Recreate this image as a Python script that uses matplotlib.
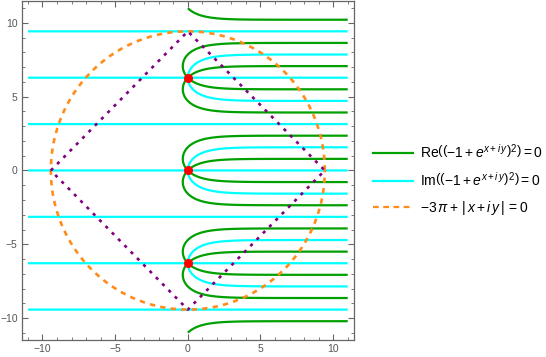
import numpy as np
import matplotlib
matplotlib.use("Agg")
import matplotlib.pyplot as plt
from matplotlib.lines import Line2D
from matplotlib.ticker import MultipleLocator

plt.rcParams['font.family'] = ['Liberation Sans', 'DejaVu Sans']
plt.rcParams['mathtext.fontset'] = 'custom'
plt.rcParams['mathtext.rm'] = 'Liberation Sans'
plt.rcParams['mathtext.it'] = 'Liberation Sans:italic'
plt.rcParams['mathtext.sf'] = 'Liberation Sans'

# ---- data ----
x_range = [-11, 11]
y_range = [-10.99, 10.99]
circle_radius = 3 * np.pi
diamond_x = [-3 * np.pi, 0, 3 * np.pi, 0, -3 * np.pi]
diamond_y = [0, 3 * np.pi, 0, -3 * np.pi, 0]
zero_x = [0, 0, 0]
zero_y = [-2 * np.pi, 0, 2 * np.pi]
x_ticks = [-10, -5, 0, 5, 10]
y_ticks = [-10, -5, 0, 5, 10]
labels = [r"$\mathrm{Re}\left(\left(-1+e^{x+i\,y}\right)^{2}\right)=0$",
          r"$\mathrm{Im}\left(\left(-1+e^{x+i\,y}\right)^{2}\right)=0$",
          r"$-3\,\pi+\,|\,x+i\,y\,|\,=0$"]

GREEN = '#00a000'
CYAN = '#00ffff'
ORANGE = '#ff8c1a'
PURPLE = '#800080'

fig = plt.figure(figsize=(5.46, 3.57), dpi=100)
ax = fig.add_axes([0.040, 0.049, 0.608, 0.947])

n = 1400
xs = np.linspace(x_range[0], x_range[1], n)
ys = np.linspace(y_range[0], y_range[1], n)
X, Y = np.meshgrid(xs, ys)
W = (np.exp(X + 1j * Y) - 1) ** 2

ax.contour(X, Y, W.imag, levels=[0], colors=[CYAN], linewidths=1.6, zorder=2)
ax.contour(X, Y, W.real, levels=[0], colors=[GREEN], linewidths=1.6, zorder=3)

t = np.linspace(0, 2 * np.pi, 400)
ax.plot(circle_radius * np.cos(t), circle_radius * np.sin(t), color=ORANGE,
        lw=1.9, dashes=(2.0, 2.0), zorder=4)
ax.plot(diamond_x, diamond_y, color=PURPLE, lw=1.9, dashes=(1.2, 2.2), zorder=5)
ax.plot(zero_x, zero_y, 'o', color='red', ms=5.5, zorder=6)

ax.set_xlim(-11.42, 11.42)
ax.set_ylim(-11.45, 11.45)
ax.set_xticks(x_ticks)
ax.set_yticks(y_ticks)
ax.xaxis.set_minor_locator(MultipleLocator(1))
ax.yaxis.set_minor_locator(MultipleLocator(1))
ax.tick_params(which='both', direction='in', color='#666666', top=True, right=True,
               labelcolor='#555555', labelsize=7.5, pad=3)
ax.tick_params(which='major', length=4, width=0.8)
ax.tick_params(which='minor', length=2.5, width=0.6)
ax.tick_params(top=True, right=True, labeltop=False, labelright=False)
for s in ax.spines.values():
    s.set_color('#666666')
    s.set_linewidth(0.9)

handles = [Line2D([], [], color=GREEN, lw=1.6),
           Line2D([], [], color=CYAN, lw=1.6),
           Line2D([], [], color=ORANGE, lw=1.6, dashes=(2.6, 2.0))]
fig.legend(handles, labels, loc='center left',
           bbox_to_anchor=(373 / 546, 1 - 180 / 357), bbox_transform=fig.transFigure,
           frameon=False, fontsize=10, handlelength=2.9, handletextpad=0.5,
           labelspacing=0.75, borderaxespad=0, borderpad=0)

fig.savefig('out.png', dpi=100)
